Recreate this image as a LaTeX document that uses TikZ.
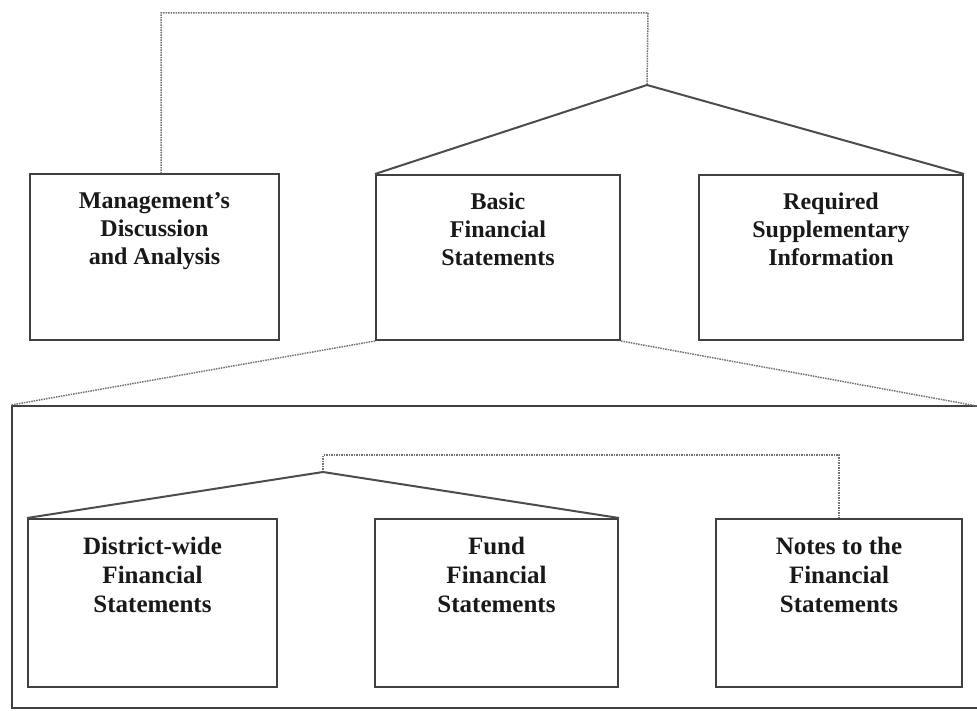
\documentclass[tikz,border=0pt]{standalone}
\usepackage{fontspec}
\setmainfont{Liberation Serif}
\begin{document}
\begin{tikzpicture}[x=1pt,y=-1pt,
  box/.style={draw=black!75, line width=2pt, minimum width=#1, minimum height=165pt, inner sep=0pt},
  lbl/.style={anchor=north, inner sep=0pt, align=center, font=\fontsize{24}{28}\selectfont\bfseries, text=black!90},
  lblb/.style={anchor=north, inner sep=0pt, align=center, font=\fontsize{25}{29}\selectfont\bfseries, text=black!90},
  solidline/.style={draw=black!70, line width=2pt},
  dotline/.style={draw=black!55, line width=1.5pt, densely dotted}]
\useasboundingbox (0,0) rectangle (977,711);
% top row
\node[box=249pt, label={[lbl, yshift=-19pt]north:Management's\\Discussion\\and Analysis}] (mda) at (154.5,257) {};
\node[box=244pt, label={[lbl, yshift=-19pt]north:Basic\\Financial\\Statements}] (basic) at (498,257.5) {};
\node[box=264pt, label={[lbl, yshift=-19pt]north:Required\\Supplementary\\Information}] (rsi) at (831,257.5) {};
\coordinate (tl) at (161,13);
\coordinate (tr) at (648,13);
\coordinate (apex) at (647,85);
\draw[dotline] (tl |- mda.north) -- (tl) -- (tr) -- (apex);
\draw[solidline] (basic.north west) -- (apex) -- (rsi.north east);
% panel
\node[draw=black!75, line width=2pt, minimum width=978pt, minimum height=302pt, inner sep=0pt] (panel) at (501,557) {};
\coordinate (pr) at (977,406);
\draw[dotline] (basic.south west) -- (panel.north west);
\draw[dotline] (basic.south east) -- (pr);
% bottom row
\node[box=249pt, minimum height=168pt, label={[lblb, yshift=-19pt]north:District-wide\\Financial\\Statements}] (dw) at (152.5,603) {};
\node[box=243pt, minimum height=168pt, label={[lblb, yshift=-19pt]north:Fund\\Financial\\Statements}] (fund) at (496.5,603) {};
\node[box=246pt, minimum height=168pt, label={[lblb, yshift=-19pt]north:Notes to the\\Financial\\Statements}] (notes) at (839,603) {};
\coordinate (apexb) at (323,472);
\coordinate (bl) at (323,455);
\coordinate (br) at (839,455);
\draw[dotline] (apexb) -- (bl) -- (br) -- (notes.north);
\draw[solidline] (dw.north west) -- (apexb) -- (fund.north east);
\end{tikzpicture}
\end{document}
